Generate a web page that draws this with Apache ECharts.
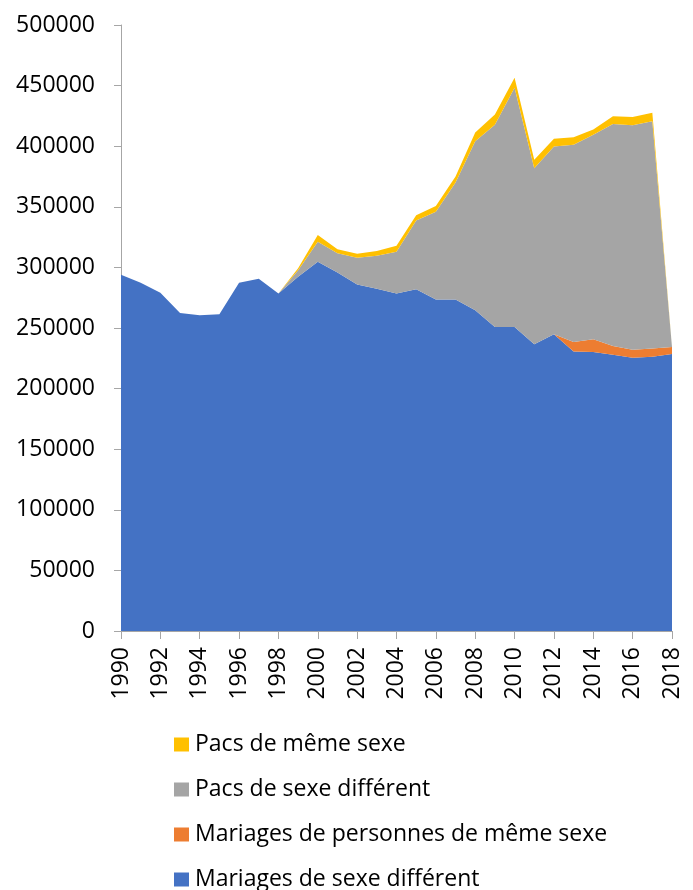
<!DOCTYPE html>
<html>
<head>
<meta charset="utf-8">
<script src="https://cdn.jsdelivr.net/npm/echarts@6/dist/echarts.min.js"></script>
<style>
html, body { margin: 0; padding: 0; background: #fff; }
#chart { width: 693px; height: 890px; }
</style>
</head>
<body>
<div id="chart"></div>
<script>
var years = ['1990', '1991', '1992', '1993', '1994', '1995', '1996', '1997', '1998', '1999',
    '2000', '2001', '2002', '2003', '2004', '2005', '2006', '2007', '2008', '2009',
    '2010', '2011', '2012', '2013', '2014', '2015', '2016', '2017', '2018'];

var mariagesDiff = [294000, 287300, 279000, 262400, 260500, 261300, 287300, 290600, 278500, 292200,
    304700, 295800, 285900, 282300, 278500, 282000, 273500, 273500, 264600, 250800,
    250800, 236500, 244800, 230700, 230100, 228000, 225500, 226300, 228500];

var mariagesMeme = [0, 0, 0, 0, 0, 0, 0, 0, 0, 0,
    0, 0, 0, 0, 0, 0, 0, 0, 0, 0,
    0, 0, 0, 7700, 10600, 7100, 6600, 6700, 5800];

var pacsDiff = [0, 0, 0, 0, 0, 0, 0, 0, 0, 5500,
    16500, 15800, 22100, 27300, 34400, 56600, 72500, 96500, 139400, 167000,
    197400, 145400, 155000, 162800, 168800, 183300, 185100, 187500, 0];

var pacsMeme = [0, 0, 0, 0, 0, 0, 0, 0, 0, 1500,
    5500, 3300, 3300, 3900, 5000, 4400, 4700, 5000, 7400, 8300,
    8200, 6900, 6400, 6100, 4200, 6300, 6900, 7000, 0];

var font = '"Open Sans", sans-serif';
var chart = echarts.init(document.getElementById('chart'));

function layer(name, data, color) {
    return {
        name: name,
        type: 'line',
        stack: 'total',
        data: data,
        symbol: 'none',
        lineStyle: { width: 0 },
        areaStyle: { color: color, opacity: 1 },
        itemStyle: { color: color }
    };
}

var option = {
    animation: false,
    grid: { left: 121, right: 21, top: 25, bottom: 259 },
    legend: {
        orient: 'vertical',
        left: 174,
        top: 733,
        height: 200,
        padding: 0,
        itemWidth: 15,
        itemHeight: 14,
        itemGap: 22,
        icon: 'rect',
        textStyle: { fontFamily: font, fontSize: 23, color: '#000', padding: [0, 0, 0, 1] },
        data: ['Pacs de même sexe', 'Pacs de sexe différent',
            'Mariages de personnes de même sexe', 'Mariages de sexe différent']
    },
    xAxis: {
        type: 'category',
        boundaryGap: false,
        data: years,
        axisLine: { lineStyle: { color: '#a6a6a6', width: 1 } },
        axisTick: { interval: 1, length: 8, lineStyle: { color: '#a6a6a6' } },
        axisLabel: { interval: 1, rotate: 90, margin: 16, fontFamily: font, fontSize: 23, color: '#000' }
    },
    yAxis: {
        type: 'value',
        min: 0,
        max: 500000,
        interval: 50000,
        splitLine: { show: false },
        axisLine: { show: true, lineStyle: { color: '#a6a6a6', width: 1 } },
        axisTick: { show: true, length: 7, lineStyle: { color: '#a6a6a6' } },
        axisLabel: {
            margin: 26, fontFamily: font, fontSize: 23, color: '#000',
            formatter: function (v) { return String(v); }
        }
    },
    series: [
        layer('Mariages de sexe différent', mariagesDiff, '#4472C4'),
        layer('Mariages de personnes de même sexe', mariagesMeme, '#ED7D31'),
        layer('Pacs de sexe différent', pacsDiff, '#A5A5A5'),
        layer('Pacs de même sexe', pacsMeme, '#FFC000')
    ]
};
chart.setOption(option);
</script>
</body>
</html>
